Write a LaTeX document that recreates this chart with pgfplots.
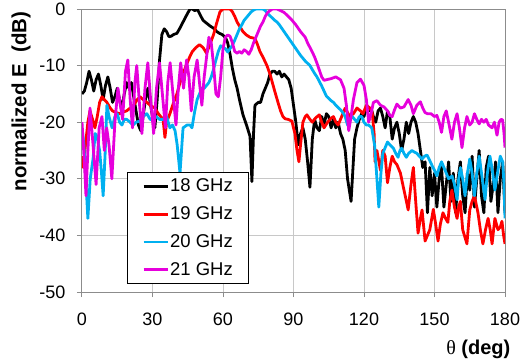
\documentclass[border=0pt]{standalone}
\usepackage{fontspec}
\setmainfont{Liberation Sans}
\newfontfamily\serifgr{Liberation Serif}
\usepackage{pgfplots}
\pgfplotsset{compat=1.18}
\definecolor{c18}{RGB}{0,0,0}
\definecolor{c19}{RGB}{255,0,0}
\definecolor{c20}{RGB}{0,176,240}
\definecolor{c21}{RGB}{230,0,220}
\definecolor{gridc}{RGB}{200,200,200}
\definecolor{framec}{RGB}{140,140,140}
\begin{document}
\begin{tikzpicture}
\begin{axis}[
  scale only axis, width=423bp, height=283bp,
  xmin=0, xmax=180, ymin=-50, ymax=0,
  xtick={0,30,60,90,120,150,180}, ytick={-50,-40,-30,-20,-10,0},
  xticklabels={0,30,60,90,120,150,180},
  yticklabels={-50,-40,-30,-20,-10,0},
  grid=major, major grid style={draw=gridc, line width=1bp},
  axis line style={draw=framec, line width=1bp},
  tick style={draw=framec, line width=1bp},
  tick align=outside, major tick length=5bp, tick pos=left,
  tick label style={font=\fontsize{18bp}{21bp}\selectfont},
  xticklabel style={yshift=-12bp},
  yticklabel style={xshift=-8bp},
  every axis y label/.style={at={(rel axis cs:-0.1442,0.673)}, rotate=90, anchor=center},
  every axis x label/.style={at={(rel axis cs:0.937,-0.2014)}, anchor=center},
  ylabel={\fontsize{20.5bp}{24bp}\selectfont\bfseries normalized E\ \ (dB)},
  xlabel={\fontsize{20bp}{24bp}\selectfont{\serifgr θ} \bfseries(deg)},
  legend cell align=left,
  legend style={at={(rel axis cs:0.106,0.424)}, anchor=north west, draw=black, line width=1bp,
    font=\fontsize{18.5bp}{21bp}\selectfont, row sep=9.5bp, inner xsep=15bp, inner ysep=4.5bp,
    nodes={inner xsep=1bp}},
  legend image code/.code={\draw[#1, line width=2.8bp] (0bp,0bp) -- (24bp,0bp);},
  every axis plot/.append style={line width=2.8bp, line join=round},
]
\addplot[c18] coordinates {
(0,-15)(1,-14.5)(2,-13)(3,-11)(4,-12.5)(5,-14.5)(6,-12.5)(7,-11.5)(8,-13.5)(9,-16)(10,-13.5)(11,-12)(12,-14)(13,-16.5)(14,-15.5)(15,-14)(16,-16)(17,-17.5)(18,-15)(19,-13)(20,-14)(21,-13)(22,-15.5)(23,-18)(24,-20.5)(25,-21.5)(26,-19)(27,-16)(28,-14)(29,-16.5)(30,-19)(31,-21)(32,-16)(33,-9)(34,-4.5)(35,-3.5)(36,-4)(37,-4.9)(38,-4.8)(39,-4.5)(40.4,-4.3)(41.5,-3.5)(43,-2.3)(44,-1.5)(45,-0.7)(46,0)(47,0)(48,-0.3)(49,0)(50,-0.8)(51.5,-2)(53,-2.5)(54.5,-3)(56,-3.4)(57.4,-4)(58.5,-4.3)(59.6,-4.5)(61,-5)(62,-6)(63,-8)(64,-10.5)(65,-12.5)(66,-14)(67,-16)(68.5,-18.7)(70,-20.5)(71.5,-22.5)(72.3,-30.5)(73,-22)(73.6,-17)(75,-16.5)(76,-16.5)(77,-15)(78,-14)(79,-13)(80,-11.5)(81,-11)(82,-11)(83,-11.5)(84,-11)(85,-12)(86,-11.5)(87,-12)(88,-12.5)(89,-14)(90,-17)(91,-20)(92,-24)(93,-22)(94,-21)(95,-23)(96,-27)(97,-31.5)(98,-23)(99,-19.5)(100,-21)(101,-21.5)(102,-19)(103,-20.5)(104,-18.5)(105,-19)(106,-21)(107,-19.5)(108,-21)(109,-20)(110,-22)(111,-23)(112,-25)(113,-30)(114.5,-34)(116,-23)(117,-21)(118,-19.5)(119,-18.5)(120,-19)(121,-17.5)(122,-18)(123,-17.5)(124,-19)(125,-20)(126,-18)(127,-17.5)(128,-19)(129,-21)(130,-18)(131,-19)(132,-23)(133,-21)(134,-20)(135,-22)(136,-25)(137,-23)(138,-20)(139,-22)(140,-20)(141,-19)(142,-20)(143,-22)(144,-25)(145,-28)(146,-27)(147,-36)(148,-28)(149,-33)(150,-29)(151,-35)(152,-30)(153,-28)(154,-35)(155,-31)(156,-27)(157,-34)(158,-29)(159,-36)(160,-30)(161,-27)(162,-33)(163,-36)(164,-29)(165,-32)(166,-26)(167,-35)(168,-30)(169,-25)(170,-33)(171,-36)(172,-28)(173,-26)(174,-34)(175,-31)(176,-27)(177,-36)(178,-30)(179,-27)(180,-36)
};
\addlegendentry{18 GHz}
\addplot[c19] coordinates {
(0,-26)(0.5,-28)(1.5,-24)(2.5,-20)(3.4,-18)(4.5,-19.5)(5.5,-21)(6.5,-19)(7.5,-16.5)(8.5,-15.5)(9.5,-16)(10.6,-16.5)(12,-17.5)(13,-18)(14.5,-18.3)(16,-18.5)(17.5,-18.2)(19,-18)(20.5,-17.5)(22,-17)(23.5,-16)(24.7,-15.5)(26,-16)(27.6,-16.5)(29,-17)(31,-17.5)(32.5,-18.5)(34.5,-19.5)(35.3,-22.7)(36,-20)(37.4,-18.5)(39,-16.5)(40.4,-15)(41.7,-13)(43,-11.5)(44,-10.3)(45,-9.3)(46,-8.3)(47,-7.5)(48.5,-6.8)(50,-6.3)(51.5,-6.8)(53,-7.8)(54.5,-6.2)(56,-4.5)(57.3,-2.5)(58.7,-0.5)(60,0)(61.7,0)(63,0)(64,-0.5)(65,-1.3)(66,-2.3)(67,-3)(68.5,-4)(70,-4.6)(71.5,-5)(73.6,-5.2)(74.7,-6.3)(75.7,-7.5)(77,-8.5)(78.7,-10)(80,-11.5)(81,-13)(82,-14.5)(83.4,-16.5)(84.5,-18)(85.5,-19)(86.5,-19.4)(87.7,-19.5)(89.3,-19.8)(90.6,-22)(91.5,-25)(92.3,-27)(93,-24)(94,-20)(95,-19)(95.7,-18.7)(97,-19.5)(98,-20)(99.5,-19.2)(101,-18.7)(102,-20)(103,-21)(104.5,-20)(106,-19.3)(107,-19)(108,-20)(109,-20.5)(110.5,-19)(112,-17.5)(113,-18.3)(114,-19)(115.5,-18.5)(117,-17.5)(118.5,-18)(119.6,-18.5)(121,-17)(122.5,-17.5)(123.5,-18.3)(124.3,-22)(124.7,-27)(125.5,-25)(127,-28.5)(128,-25)(129,-26)(130,-30.7)(131,-28)(132,-26)(133,-27)(134,-27.5)(135.5,-29)(136.7,-31.4)(137.8,-33.5)(138.8,-35.5)(140,-31)(141,-28)(142,-34)(143,-39.6)(144,-37)(144.7,-35.5)(146,-41)(147,-40)(148,-39)(149.5,-35.4)(150.5,-38)(151.5,-41)(152.5,-38)(153.6,-36)(154.7,-37)(155.7,-37.7)(156.5,-34)(157.4,-32)(158.5,-35)(159.6,-37)(160.3,-35)(161,-34)(162,-39)(163.8,-41.5)(165,-35.5)(166,-34)(167,-33)(168.5,-36)(169.5,-39)(170.6,-41.5)(171.7,-39)(172.8,-37)(173.7,-39)(174.5,-41.5)(175.7,-37)(177,-39)(178,-38.5)(178.7,-37.5)(179.4,-40)(180,-41.5)
};
\addlegendentry{19 GHz}
\addplot[c20] coordinates {
(0,-21)(0.8,-24)(1.6,-30)(2.5,-37)(3.5,-30)(4.7,-26.5)(5.6,-22)(6.4,-22.5)(7.5,-25)(8.3,-29)(9,-33)(9.8,-26)(10.6,-17)(11.5,-19)(12.8,-21)(14,-19)(15,-18.5)(16,-20)(17,-20.5)(18,-19.5)(19,-19.5)(20.5,-20)(21.7,-20.5)(23,-20)(24.5,-19.8)(26,-19)(27.6,-18.5)(29,-19.5)(30,-19.5)(31.5,-19)(33,-19.5)(34.5,-19.5)(36,-19)(37.4,-21)(38.5,-20.5)(39.6,-21.5)(40.5,-24)(41.7,-29)(43,-21)(44.7,-20.5)(46,-20.5)(46.8,-21)(48,-18)(49,-16)(50,-15)(51,-14)(52,-14)(53,-13.5)(54,-13)(55,-12)(56,-10.6)(57,-9)(58,-7.5)(59,-6.5)(60,-6.8)(61,-7)(62,-7.6)(63,-7)(64,-6.4)(65,-5.5)(66,-4.5)(67,-3.5)(68,-2.8)(69,-2)(70,-1.5)(71,-1)(72,-0.5)(73,-0.2)(74,0)(75,0)(76,0)(77,0)(78,-0.3)(79,-0.8)(80,-1.2)(81,-1.6)(82,-2)(83,-2.3)(84,-2.8)(85,-3.4)(86,-4)(87,-4.6)(88,-5.2)(89,-5.8)(90,-6.4)(91,-7)(92,-7.6)(93,-8.2)(94,-8.7)(95,-9.2)(96,-9.6)(97,-10)(98,-10.7)(99,-11.4)(100,-12)(101,-12.8)(102,-13.6)(103,-14.5)(104,-15.4)(105,-15.8)(106,-16.2)(107,-16.5)(108,-17)(109,-17.4)(110,-17.8)(111,-18.3)(112,-19)(113,-20.5)(114,-19.5)(115,-19)(116,-19.5)(117,-20)(118,-19)(119,-19)(120,-20)(121,-20.5)(122,-20.5)(123.3,-21)(124.5,-24)(125.5,-30)(126.3,-35)(127.2,-29)(128,-25.5)(129,-24.5)(130,-23.5)(131,-24)(132.5,-24.6)(133.5,-25.5)(134.5,-26.2)(135.3,-25)(136,-24.6)(137,-25.5)(138,-26.2)(139,-25.5)(140.4,-25)(141.5,-25.3)(142.5,-25.5)(143.5,-26)(144.7,-26.5)(145.8,-26)(146.8,-25.8)(148,-26.8)(149,-27.7)(150,-28.5)(151,-29.5)(152,-28)(153,-27)(154,-28)(155,-29)(156,-30)(157.5,-29.5)(158.5,-31)(159.6,-33.7)(160.3,-30)(161,-28)(162,-30)(163,-33)(164,-29)(165,-26.5)(166,-29)(167,-33)(168,-29)(169,-26)(170,-29)(171.5,-33.7)(172.5,-29)(173.6,-26)(174.6,-28.5)(175.7,-32)(176.8,-29)(178,-26)(179,-27)(179.6,-31)(180,-37)
};
\addlegendentry{20 GHz}
\addplot[c21] coordinates {
(0,-20)(1,-27)(1.7,-33)(2.5,-25)(3.4,-17.5)(4.7,-24)(6,-31)(7.3,-21)(8.5,-19)(9.5,-25)(10.5,-21)(11.5,-24)(12.7,-30)(14,-20)(15.3,-14)(16.3,-17)(17.3,-19.5)(18.5,-11)(19.5,-9)(20.5,-16)(21.5,-21)(22.5,-13)(23.3,-10)(24.5,-17)(25.5,-22)(26.8,-14)(28,-9.5)(29.2,-16)(30.5,-22)(31.7,-14)(33,-9.5)(34.2,-15)(35.5,-21)(36.5,-13)(37.5,-9.5)(38.7,-15)(40,-20.5)(41,-14)(42,-9.5)(43.2,-14)(44.5,-9)(45.5,-12)(46.5,-18)(47.7,-12)(49,-9)(50,-13)(51,-17)(52,-12)(53,-8.5)(54,-5)(55,-6)(56,-10)(57,-15)(58,-15.5)(59,-12)(60,-7)(61,-5)(62,-4.6)(63,-4.8)(64,-6)(65,-7.5)(66,-7.8)(67,-7.5)(68,-7.8)(69,-7.2)(70,-7.5)(71,-8)(72,-7.2)(73,-6)(74,-5)(75,-4)(76,-3)(77,-2.3)(78,-1.3)(79,-0.6)(80,-0.3)(81,0)(82,0)(83,0)(84,-0.2)(85,-0.4)(86,-0.6)(87,-1)(88,-1.4)(89,-1.8)(90,-2.3)(91,-2.8)(92,-3.4)(93,-4)(94,-4.5)(95,-5)(96,-6)(97,-6.8)(98,-7.6)(99,-8.5)(100,-9.6)(101,-10.8)(102,-12)(103,-12.6)(104,-12.5)(106,-12.3)(108,-12)(110,-12.5)(111.5,-14)(112.5,-17)(113.5,-21.5)(114.5,-19)(115.5,-16)(117,-13)(118.5,-12.4)(120,-13.5)(121,-16)(122,-20)(123,-18.5)(124,-16.5)(125.5,-16.2)(127,-17)(128.5,-17.3)(130,-18)(131,-18.8)(132,-19)(133,-17.8)(134,-16.8)(135.5,-17.5)(137,-17.3)(138.8,-16)(140,-17)(141,-18.5)(142.5,-17)(144,-16.4)(145,-17.5)(146,-18.3)(147,-18.5)(148.5,-18.5)(150,-19)(151,-18.8)(152,-20)(153,-21.8)(154,-19)(155,-18)(156,-20)(157.4,-23)(158.5,-20)(159.6,-18.5)(160.6,-21)(161.7,-24.5)(162.8,-21)(163.8,-19)(165,-20.5)(166,-20)(167,-18.5)(168,-19.5)(169,-20.3)(170,-19.5)(171,-20)(172,-19.5)(173,-20.5)(174.5,-21)(175.5,-20)(176.6,-22.3)(177.5,-20)(178.3,-19.5)(179,-19.6)(179.6,-22)(180,-24.5)
};
\addlegendentry{21 GHz}
\coordinate (sw) at (rel axis cs:0,0);
\coordinate (ne) at (rel axis cs:1,1);
\end{axis}
\pgfresetboundingbox
\path[use as bounding box] ([shift={(-82bp,-70bp)}]sw) rectangle ([shift={(18bp,9bp)}]ne);
\end{tikzpicture}
\end{document}
